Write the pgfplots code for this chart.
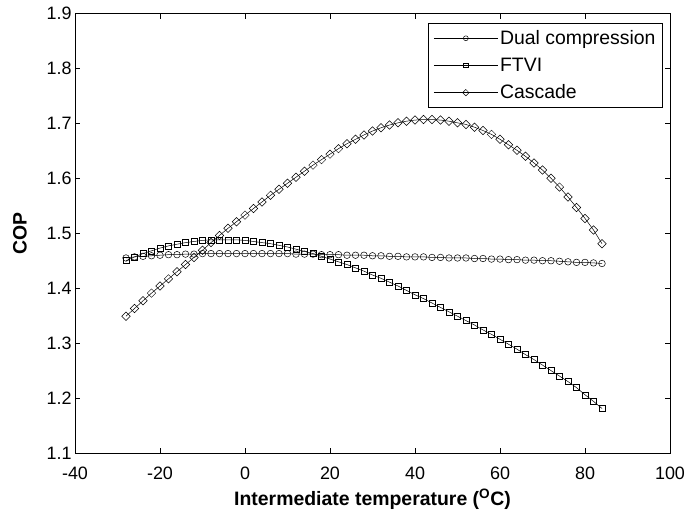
\documentclass[border=0pt]{standalone}
\usepackage{pgfplots}
\pgfplotsset{compat=1.18}
\usepackage{pgfplotstable}
\usepackage{fontspec}
\setmainfont{Liberation Sans}

\pgfplotstableread{
x dual ftvi cascade
-28 1.455 1.450 1.349
-26 1.457 1.457 1.363
-24 1.458 1.463 1.377
-22 1.459 1.468 1.391
-20 1.460 1.473 1.404
-18 1.461 1.477 1.417
-16 1.461 1.480 1.430
-14 1.462 1.483 1.443
-12 1.462 1.485 1.456
-10 1.463 1.487 1.469
-8 1.463 1.488 1.483
-6 1.463 1.488 1.496
-4 1.463 1.488 1.509
-2 1.463 1.488 1.521
0 1.463 1.487 1.533
2 1.463 1.485 1.545
4 1.463 1.483 1.557
6 1.463 1.481 1.569
8 1.463 1.478 1.580
10 1.463 1.475 1.591
12 1.462 1.471 1.602
14 1.462 1.467 1.613
16 1.462 1.463 1.624
18 1.461 1.458 1.634
20 1.461 1.453 1.644
22 1.461 1.448 1.654
24 1.460 1.443 1.663
26 1.460 1.437 1.671
28 1.460 1.431 1.679
30 1.459 1.424 1.686
32 1.459 1.418 1.692
34 1.458 1.411 1.697
36 1.458 1.404 1.701
38 1.457 1.396 1.704
40 1.457 1.388 1.706
42 1.457 1.381 1.707
44 1.456 1.373 1.707
46 1.456 1.365 1.706
48 1.455 1.357 1.704
50 1.455 1.349 1.701
52 1.455 1.341 1.698
54 1.454 1.333 1.693
56 1.454 1.324 1.687
58 1.453 1.316 1.680
60 1.453 1.307 1.671
62 1.452 1.298 1.661
64 1.452 1.289 1.651
66 1.451 1.279 1.640
68 1.451 1.270 1.628
70 1.450 1.260 1.615
72 1.450 1.250 1.600
74 1.449 1.240 1.584
76 1.448 1.230 1.566
78 1.447 1.219 1.547
80 1.447 1.206 1.527
82 1.446 1.194 1.506
84 1.445 1.181 1.481
}\datatable

\begin{document}
\begin{tikzpicture}
\useasboundingbox (0,0) rectangle (690bp,518bp);
\begin{axis}[
  at={(75bp,65bp)}, anchor=south west,
  scale only axis,
  width=595bp, height=439.5bp,
  xmin=-40, xmax=100, ymin=1.1, ymax=1.9,
  xtick={-40,-20,...,100},
  ytick={1.1,1.2,...,1.9},
  yticklabel style={/pgf/number format/.cd, fixed, fixed zerofill, precision=1},
  xticklabel style={yshift=-10bp},
  /pgf/number format/assume math mode=true,
  tick label style={font=\fontsize{18}{20}\selectfont, black},
  tick align=inside,
  major tick length=5bp,
  axis line style={line width=0.8bp},
  every tick/.style={black, line width=0.6bp},
  xlabel={\textbf{Intermediate temperature (\textsuperscript{O}C)}},
  ylabel={\textbf{COP}},
  every axis x label/.style={at={(axis description cs:0.5,-0.105)}, anchor=center, font=\fontsize{19.5}{22}\selectfont},
  every axis y label/.style={at={(axis description cs:-0.0924,0.5)}, anchor=center, rotate=90, font=\fontsize{19.5}{22}\selectfont},
  legend style={at={(0.988,0.978)}, anchor=north east, draw=black, line width=0.6bp,
    font=\fontsize{19.5}{22}\selectfont, inner xsep=5bp, inner ysep=5bp, row sep=8bp,
    legend cell align=left},
  legend image code/.code={%
    \draw[mark repeat=2, mark phase=2, /tikz/every mark/.append style={scale=0.75}]
      plot coordinates {(0bp,0bp) (32bp,0bp) (64bp,0bp)};},
  every axis plot/.append style={black, line width=0.5bp, mark options={solid, line width=0.5bp, fill=none}},
]
\addplot[mark=o, mark size=3.3bp] table[x=x, y=dual] {\datatable};
\addlegendentry{Dual compression}
\addplot[mark=square, mark size=3bp] table[x=x, y=ftvi] {\datatable};
\addlegendentry{FTVI}
\addplot[mark=square, mark size=3bp, mark options={rotate=45}] table[x=x, y=cascade] {\datatable};
\addlegendentry{Cascade}
\end{axis}
\end{tikzpicture}
\end{document}
